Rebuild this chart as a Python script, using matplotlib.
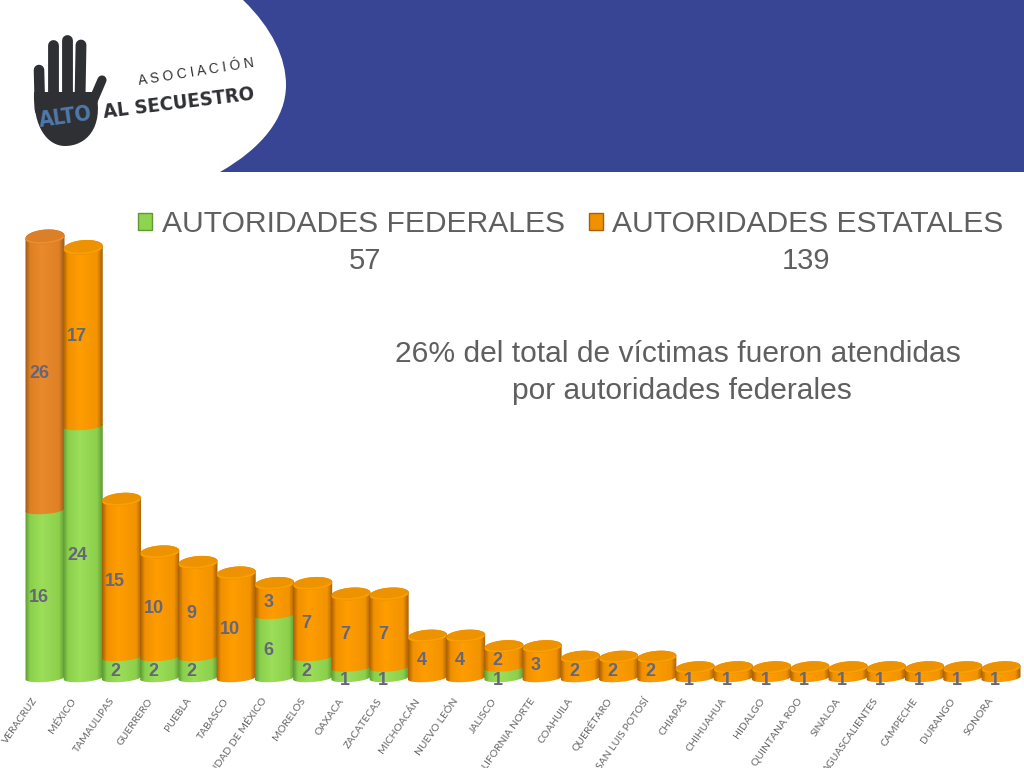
import numpy as np
import matplotlib
matplotlib.use('Agg')
import matplotlib.pyplot as plt
from matplotlib.patches import PathPatch, Patch
from matplotlib.path import Path
from matplotlib.transforms import ScaledTranslation

estados = ['VERACRUZ', 'MÉXICO', 'TAMAULIPAS', 'GUERRERO', 'PUEBLA', 'TABASCO',
           'CIUDAD DE MÉXICO', 'MORELOS', 'OAXACA', 'ZACATECAS', 'MICHOACÁN',
           'NUEVO LEÓN', 'JALISCO', 'BAJA CALIFORNIA NORTE', 'COAHUILA', 'QUERÉTARO',
           'SAN LUIS POTOSÍ', 'CHIAPAS', 'CHIHUAHUA', 'HIDALGO', 'QUINTANA ROO',
           'SINALOA', 'AGUASCALIENTES', 'CAMPECHE', 'DURANGO', 'SONORA']
federales = [16, 24, 2, 2, 2, 0, 6, 2, 1, 1, 0, 0, 1, 0, 0, 0, 0, 0, 0, 0, 0, 0, 0, 0, 0, 0]
estatales = [26, 17, 15, 10, 9, 10, 3, 7, 7, 7, 4, 4, 2, 3, 2, 2, 2, 1, 1, 1, 1, 1, 1, 1, 1, 1]
total_federales = 57
total_estatales = 139

GRIS = '#5f5f5f'
AZUL = '#374594'
SANS = 'Liberation Sans'

# dark edge -> bright middle -> dark edge
verde = ['#5d9a33', '#8ad04c', '#9cde58', '#8ccf4c', '#5d9a33']
naranja = ['#a85f05', '#f29100', '#ff9d00', '#f29300', '#a85f05']
naranja_osc = ['#99591a', '#de7f22', '#e98a2c', '#de8024', '#99591a']


def hex_rgb(c):
    return np.array([int(c[i:i + 2], 16) / 255 for i in (1, 3, 5)])


def gradiente(cols):
    stops = [0, 0.12, 0.42, 0.86, 1]
    t = np.linspace(0, 1, 60)
    rgb = np.array([hex_rgb(c) for c in cols])
    return np.stack([np.interp(t, stops, rgb[:, k]) for k in range(3)], axis=-1)[None, :, :]


def arco(x, y, h, a, b, n=40, w=0.51, tilt=0.14):
    th = np.linspace(a, b, n)
    return np.column_stack([x + w * np.cos(th), y + tilt * np.cos(th) + h * np.sin(th)])


def tramo(ax, x, y0, y1, cols, h_top, z):
    # one stacked piece of a cylinder: lower curve, sides, upper curve
    pts = np.vstack([arco(x, y0, 0.38, np.pi, 2 * np.pi), arco(x, y1, h_top, 0, np.pi)])
    patch = PathPatch(Path(pts), fc='none', ec='none', transform=ax.transData)
    ax.add_patch(patch)
    im = ax.imshow(gradiente(cols), extent=(x - 0.52, x + 0.52, y0 - 1, y1 + 1),
                   aspect='auto', zorder=z, interpolation='bilinear')
    im.set_clip_path(patch)


def tapa(ax, x, y, cols, h, z):
    rgb = gradiente(cols)[0, 30] * 0.94
    pts = arco(x, y, h, 0, 2 * np.pi, n=80)
    ax.fill(pts[:, 0], pts[:, 1], color=rgb, lw=0, zorder=z)
    # light rim along the front of the lid
    rim = arco(x, y + 0.05, h * 0.85, np.pi * 1.12, np.pi * 1.88)
    ax.plot(rim[:, 0], rim[:, 1], color=np.minimum(rgb * 1.15, 1), lw=1.2, alpha=0.7,
            solid_capstyle='round', zorder=z + 0.1)


fig = plt.figure(figsize=(10.24, 7.68), dpi=100)

# slide header and logo, in pixel coordinates
bg = fig.add_axes([0, 0, 1, 1])
bg.set_xlim(0, 1024)
bg.set_ylim(768, 0)
bg.axis('off')
bg.fill([0, 1024, 1024, 0], [0, 0, 172, 172], color=AZUL, lw=0)
curva = Path([(0, 0), (243, 0), (272, 28), (286, 58), (286, 85), (286, 118), (262, 148), (220, 172),
              (0, 172), (0, 0)],
             [Path.MOVETO, Path.LINETO, Path.CURVE4, Path.CURVE4, Path.CURVE4, Path.CURVE4, Path.CURVE4,
              Path.CURVE4, Path.LINETO, Path.CLOSEPOLY])
bg.add_patch(PathPatch(curva, fc='white', ec='none'))

mano = '#2f3034'
for xs, ys, lw in [((39, 40), (70, 110), 7.6), ((53, 53), (45, 100), 7.8), ((67, 67), (40, 100), 7.8),
                   ((81, 80), (45, 100), 7.8), ((102, 90), (80, 108), 6.6)]:
    bg.plot(xs, ys, color=mano, lw=lw, solid_capstyle='round')
palma = Path([(34, 92), (33, 128), (48, 146), (65, 146), (86, 146), (104, 128), (96, 92), (34, 92)],
             [Path.MOVETO, Path.CURVE4, Path.CURVE4, Path.CURVE4, Path.CURVE4, Path.CURVE4, Path.CURVE4,
              Path.CLOSEPOLY])
bg.add_patch(PathPatch(palma, fc=mano, ec='none'))
bg.text(66, 117, 'ALTO', color='#4f79ab', family='DejaVu Sans', stretch='condensed', weight='bold',
        fontsize=15.5, rotation=8, ha='center', va='center', rotation_mode='anchor')
bg.text(179, 103, 'AL SECUESTRO', color=mano, family='DejaVu Sans', stretch='condensed', weight='bold',
        fontsize=14.5, rotation=7, ha='center', va='center', rotation_mode='anchor')
bg.text(196, 72, 'A S O C I A C I Ó N', color=mano, family=SANS, fontsize=9.8,
        rotation=9, ha='center', va='center', rotation_mode='anchor')

# chart axes: 38.24 px per state, 10.5 px per victim, baseline at y=678 px
ax = fig.add_axes([0, 78 / 768, 1, 690 / 768], facecolor='none')
ax.set_xlim(-45 / 38.24, (1024 - 45) / 38.24)
ax.set_ylim(-12 / 10.5, 678 / 10.5)

for i, (f, e) in enumerate(zip(federales, estatales)):
    total = f + e
    h_top = 0.58 + 0.003 * total
    z = 2 + i
    col_e = naranja_osc if i == 0 else naranja
    if f:
        tramo(ax, i, 0, f, verde, 0.38, z)
    tramo(ax, i, f, total, col_e, h_top, z + 0.2)
    tapa(ax, i, total, col_e, h_top, z + 0.4)
    if f:
        ax.text(i - 0.16, f / 2 - (0.7 if f == 1 else 0.35), str(f), ha='center', va='center',
                fontsize=13, weight='bold', color='#66667a', family=SANS, zorder=50)
    ax.text(i - 0.16, f + e / 2 - (0.7 if e == 1 else 0.35 if e < 17 else 0), str(e), ha='center', va='center',
            fontsize=13, weight='bold', color='#66667a', family=SANS, zorder=50)

ax.set_xlim(-45 / 38.24, (1024 - 45) / 38.24)
ax.set_ylim(-12 / 10.5, 678 / 10.5)
for s in ax.spines.values():
    s.set_visible(False)
ax.set_yticks([])
ax.set_xticks(range(len(estados)))
ax.set_xticklabels(estados, rotation=55, ha='right', va='center', rotation_mode='anchor',
                   fontsize=7.5, color='#666666', family='Lato')
ax.tick_params(axis='x', length=0, pad=6.5)
desplaza = ScaledTranslation(-9 / 100, 0, fig.dpi_scale_trans)
for lab in ax.get_xticklabels():
    lab.set_transform(lab.get_transform() + desplaza)

leg = ax.legend(handles=[Patch(fc='#8fd44e', ec='#5d9a33', lw=1),
                         Patch(fc='#f29100', ec='#a85f05', lw=1)],
                labels=['AUTORIDADES FEDERALES', 'AUTORIDADES ESTATALES'],
                ncol=2, frameon=False, loc='upper left', borderpad=0, borderaxespad=0,
                bbox_to_anchor=(138 / 1024, 1 - 210 / 690),
                prop={'family': SANS, 'size': 21.6}, labelcolor=GRIS,
                handlelength=0.47, handleheight=0.5, handletextpad=0.32, columnspacing=0.8)
leg.set_zorder(60)

bg.text(365, 261, str(total_federales), ha='center', va='center', fontsize=21, color=GRIS, family=SANS)
bg.text(806, 261, str(total_estatales), ha='center', va='center', fontsize=21, color=GRIS, family=SANS)
bg.text(678, 354, '26% del total de víctimas fueron atendidas', ha='center', va='center',
        fontsize=21.6, color=GRIS, family=SANS)
bg.text(682, 391, 'por autoridades federales', ha='center', va='center',
        fontsize=21.6, color=GRIS, family=SANS)

fig.savefig('out.png', dpi=100)
